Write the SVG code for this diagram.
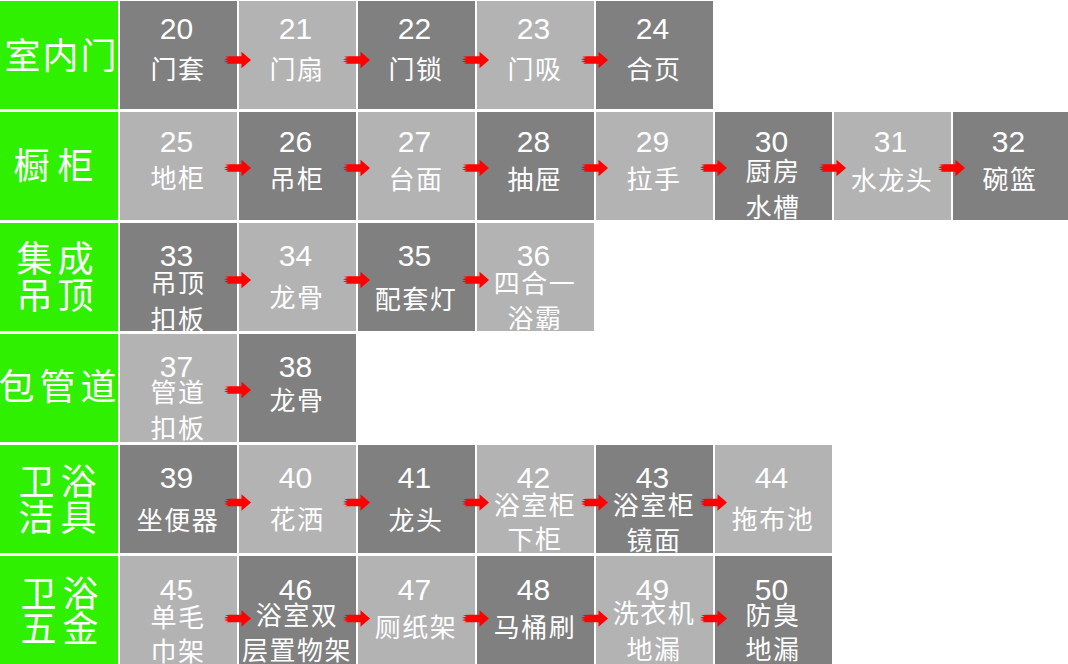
<svg xmlns="http://www.w3.org/2000/svg" width="1068" height="664" viewBox="0 0 1068 664">
<style>
.hd{fill:#2ef000}
.dk{fill:#808080}
.lt{fill:#b3b3b3}
.num{font-family:"Liberation Sans","DejaVu Sans",sans-serif;font-size:30px;fill:#fff;text-anchor:middle}
.lb{font-family:"Noto Sans CJK SC","Noto Sans CJK JP",sans-serif;font-size:26px;fill:#fff;text-anchor:middle;letter-spacing:1.5px}
.ht{font-family:"Noto Sans CJK SC","Noto Sans CJK JP",sans-serif;font-size:36px;fill:#fff;text-anchor:middle;letter-spacing:6px}
.ar{fill:#ff0000}
</style>
<defs>
<path id="ar" d="M0,0 L-9.5,-8.3 L-9.5,-3.8 L-21,-3.8 L-26,-3.2 L-22.5,-2 L-27,-0.8 L-23,0.4 L-27,1.6 L-22.5,2.8 L-25,3.8 L-9.5,3.8 L-9.5,8.3 Z"/>
</defs>
<rect width="1068" height="664" fill="#fff"/>

<!-- Row 0 -->
<g id="h-row0"><rect class="hd" x="0" y="1" width="118" height="108"/><text class="ht" x="61.5" y="68.5" style="letter-spacing:2px">室内门</text></g>
<g id="n20"><rect class="dk" x="120" y="1" width="117" height="108"/><text class="num" x="176.5" y="39">20</text><text class="lb" x="178" y="78.5">门套</text></g>
<g id="n21"><rect class="lt" x="239" y="1" width="117" height="108"/><text class="num" x="295.5" y="39">21</text><text class="lb" x="297" y="78.5">门扇</text></g>
<g id="n22"><rect class="dk" x="358" y="1" width="117" height="108"/><text class="num" x="414.5" y="39">22</text><text class="lb" x="416" y="78.5">门锁</text></g>
<g id="n23"><rect class="lt" x="477" y="1" width="117" height="108"/><text class="num" x="533.5" y="39">23</text><text class="lb" x="535" y="78.5">门吸</text></g>
<g id="n24"><rect class="dk" x="596" y="1" width="117" height="108"/><text class="num" x="652.5" y="39">24</text><text class="lb" x="654" y="78.5">合页</text></g>

<!-- Row 1 -->
<g id="h-row1"><rect class="hd" x="0" y="112" width="118" height="108"/><text class="ht" x="57.5" y="179" style="letter-spacing:8px">橱柜</text></g>
<g id="n25"><rect class="lt" x="120" y="112" width="117" height="108"/><text class="num" x="176.5" y="152">25</text><text class="lb" x="178" y="188">地柜</text></g>
<g id="n26"><rect class="dk" x="239" y="112" width="117" height="108"/><text class="num" x="295.5" y="152">26</text><text class="lb" x="297" y="189">吊柜</text></g>
<g id="n27"><rect class="lt" x="358" y="112" width="117" height="108"/><text class="num" x="414.5" y="152">27</text><text class="lb" x="416" y="189">台面</text></g>
<g id="n28"><rect class="dk" x="477" y="112" width="117" height="108"/><text class="num" x="533.5" y="152">28</text><text class="lb" x="535" y="189">抽屉</text></g>
<g id="n29"><rect class="lt" x="596" y="112" width="117" height="108"/><text class="num" x="652.5" y="152">29</text><text class="lb" x="654" y="189">拉手</text></g>
<g id="n30"><rect class="dk" x="715" y="112" width="117" height="108"/><text class="num" x="771.5" y="152">30</text><text class="lb" x="773" y="181">厨房</text><text class="lb" x="773" y="217">水槽</text></g>
<g id="n31"><rect class="lt" x="834" y="112" width="117" height="108"/><text class="num" x="890.5" y="152">31</text><text class="lb" x="892" y="190">水龙头</text></g>
<g id="n32"><rect class="dk" x="953" y="112" width="115" height="108"/><text class="num" x="1008.5" y="152">32</text><text class="lb" x="1010" y="189">碗篮</text></g>

<!-- Row 2 -->
<g id="h-row2"><rect class="hd" x="0" y="223" width="118" height="108"/><text class="ht" x="57.5" y="272" style="letter-spacing:5px">集成</text><text class="ht" x="57.5" y="308.5" style="letter-spacing:5px">吊顶</text></g>
<g id="n33"><rect class="dk" x="120" y="223" width="117" height="108"/><text class="num" x="176.5" y="266">33</text><text class="lb" x="178" y="293">吊顶</text><text class="lb" x="178" y="329">扣板</text></g>
<g id="n34"><rect class="lt" x="239" y="223" width="117" height="108"/><text class="num" x="295.5" y="266">34</text><text class="lb" x="297" y="307">龙骨</text></g>
<g id="n35"><rect class="dk" x="358" y="223" width="117" height="108"/><text class="num" x="414.5" y="266">35</text><text class="lb" x="416" y="309">配套灯</text></g>
<g id="n36"><rect class="lt" x="477" y="223" width="117" height="108"/><text class="num" x="533.5" y="266">36</text><text class="lb" x="535" y="292.5">四合一</text><text class="lb" x="535" y="327.5">浴霸</text></g>

<!-- Row 3 -->
<g id="h-row3"><rect class="hd" x="0" y="334" width="118" height="108"/><text class="ht" x="60" y="400" style="letter-spacing:5px">包管道</text></g>
<g id="n37"><rect class="lt" x="120" y="334" width="117" height="108"/><text class="num" x="176.5" y="377">37</text><text class="lb" x="178" y="401.5">管道</text><text class="lb" x="178" y="437.5">扣板</text></g>
<g id="n38"><rect class="dk" x="239" y="334" width="117" height="108"/><text class="num" x="295.5" y="377">38</text><text class="lb" x="297" y="410">龙骨</text></g>

<!-- Row 4 -->
<g id="h-row4"><rect class="hd" x="0" y="445" width="118" height="108"/><text class="ht" x="60.5" y="494.5">卫浴</text><text class="ht" x="60.5" y="531">洁具</text></g>
<g id="n39"><rect class="dk" x="120" y="445" width="117" height="108"/><text class="num" x="176.5" y="487.5">39</text><text class="lb" x="178" y="530">坐便器</text></g>
<g id="n40"><rect class="lt" x="239" y="445" width="117" height="108"/><text class="num" x="295.5" y="487.5">40</text><text class="lb" x="297" y="529">花洒</text></g>
<g id="n41"><rect class="dk" x="358" y="445" width="117" height="108"/><text class="num" x="414.5" y="487.5">41</text><text class="lb" x="416" y="530">龙头</text></g>
<g id="n42"><rect class="lt" x="477" y="445" width="117" height="108"/><text class="num" x="533.5" y="487.5">42</text><text class="lb" x="535" y="515">浴室柜</text><text class="lb" x="535" y="549">下柜</text></g>
<g id="n43"><rect class="dk" x="596" y="445" width="117" height="108"/><text class="num" x="652.5" y="487.5">43</text><text class="lb" x="654" y="515">浴室柜</text><text class="lb" x="654" y="550">镜面</text></g>
<g id="n44"><rect class="lt" x="715" y="445" width="117" height="108"/><text class="num" x="771.5" y="487.5">44</text><text class="lb" x="773" y="528.5">拖布池</text></g>

<!-- Row 5 -->
<g id="h-row5"><rect class="hd" x="0" y="556" width="118" height="108"/><text class="ht" x="62.5" y="606.5">卫浴</text><text class="ht" x="62.5" y="641.5">五金</text></g>
<g id="n45"><rect class="lt" x="120" y="556" width="117" height="108"/><text class="num" x="176.5" y="599.5">45</text><text class="lb" x="178" y="626.5">单毛</text><text class="lb" x="178" y="661">巾架</text></g>
<g id="n46"><rect class="dk" x="239" y="556" width="117" height="108"/><text class="num" x="295.5" y="599.5">46</text><text class="lb" x="297" y="625">浴室双</text><text class="lb" x="297" y="660">层置物架</text></g>
<g id="n47"><rect class="lt" x="358" y="556" width="117" height="108"/><text class="num" x="414.5" y="599.5">47</text><text class="lb" x="416" y="636.5">厕纸架</text></g>
<g id="n48"><rect class="dk" x="477" y="556" width="117" height="108"/><text class="num" x="533.5" y="599.5">48</text><text class="lb" x="535" y="636.5">马桶刷</text></g>
<g id="n49"><rect class="lt" x="596" y="556" width="117" height="108"/><text class="num" x="652.5" y="599.5">49</text><text class="lb" x="654" y="622.5">洗衣机</text><text class="lb" x="654" y="658.5">地漏</text></g>
<g id="n50"><rect class="dk" x="715" y="556" width="117" height="108"/><text class="num" x="771.5" y="599.5">50</text><text class="lb" x="773" y="625">防臭</text><text class="lb" x="773" y="659">地漏</text></g>

<g id="connectors" class="ar">
<use href="#ar" x="251" y="60"/><use href="#ar" x="370" y="60"/><use href="#ar" x="489" y="60"/><use href="#ar" x="608" y="60"/>
<use href="#ar" x="251" y="168"/><use href="#ar" x="370" y="168"/><use href="#ar" x="489" y="168"/><use href="#ar" x="608" y="168"/><use href="#ar" x="727" y="168"/><use href="#ar" x="846" y="168"/><use href="#ar" x="965" y="168"/>
<use href="#ar" x="251" y="280"/><use href="#ar" x="370" y="280"/><use href="#ar" x="489" y="280"/>
<use href="#ar" x="251" y="390"/>
<use href="#ar" x="251" y="502.5"/><use href="#ar" x="370" y="502.5"/><use href="#ar" x="489" y="502.5"/><use href="#ar" x="608" y="502.5"/><use href="#ar" x="727" y="502.5"/>
<use href="#ar" x="251" y="618.5"/><use href="#ar" x="370" y="618.5"/><use href="#ar" x="489" y="618.5"/><use href="#ar" x="608" y="618.5"/><use href="#ar" x="727" y="618.5"/>
</g>
</svg>
